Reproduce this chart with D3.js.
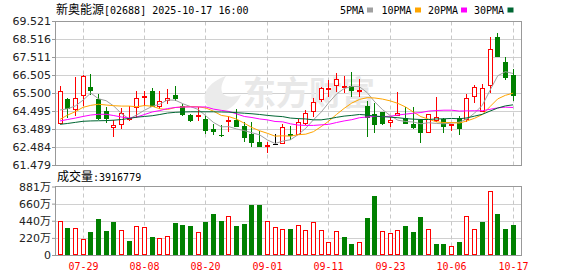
<!DOCTYPE html>
<html><head><meta charset="utf-8">
<script src="https://cdn.jsdelivr.net/npm/d3@7"></script>
<style>html,body{margin:0;padding:0;background:#fff;}svg{display:block;}</style>
</head><body><svg id="c" width="578" height="276"></svg>
<script>
const dates=["07-24","07-25","07-28","07-29","07-30","07-31","08-01","08-04","08-05","08-06","08-07","08-08","08-11","08-12","08-13","08-14","08-15","08-18","08-19","08-20","08-21","08-22","08-25","08-26","08-27","08-28","08-29","09-01","09-02","09-03","09-04","09-05","09-08","09-09","09-10","09-11","09-12","09-15","09-16","09-17","09-18","09-19","09-22","09-23","09-24","09-25","09-26","09-29","09-30","10-02","10-03","10-06","10-08","10-09","10-10","10-13","10-14","10-15","10-16","10-17"];
const open=[63.75,65.17,64.53,65.35,65.84,65.17,64.51,63.56,63.70,64.05,64.68,65.22,65.61,64.70,65.04,65.37,64.77,64.27,64.25,64.05,63.49,63.14,63.86,63.99,63.66,63.21,62.76,62.56,62.65,62.65,63.21,63.15,63.77,64.42,65.11,65.74,65.89,65.80,65.89,65.54,64.77,64.33,64.42,63.81,64.22,64.09,63.77,63.99,63.25,63.94,64.03,63.74,64.09,63.99,65.26,64.46,65.89,68.64,67.22,66.51];
const high=[65.89,65.20,66.38,66.50,66.56,65.44,64.70,63.99,64.65,64.77,65.61,65.61,65.78,65.61,65.71,65.89,64.89,64.30,64.74,64.27,63.77,63.70,64.22,64.59,63.90,63.90,63.40,62.76,63.19,63.77,63.66,64.03,64.55,65.20,65.85,66.23,66.63,66.45,66.69,66.27,65.05,64.96,64.45,64.18,65.57,64.74,64.70,64.05,64.35,65.26,64.10,63.77,64.22,65.44,65.95,65.99,68.64,68.87,67.49,66.82];
const low=[63.75,64.12,64.23,64.77,65.39,63.99,63.81,63.03,63.49,63.94,64.09,64.77,64.70,64.59,64.89,65.05,64.20,63.90,63.95,63.21,63.15,63.06,63.34,63.58,62.78,62.50,62.47,62.17,62.65,62.65,62.88,63.15,63.71,64.18,65.01,65.29,65.57,65.48,65.26,65.26,63.03,63.25,63.70,63.59,64.20,63.75,63.50,62.72,63.25,63.90,63.28,63.40,63.15,63.90,64.96,64.45,65.52,67.50,66.23,65.07];
const close=[65.63,64.59,65.20,66.45,65.61,64.05,64.03,63.70,64.37,64.10,65.20,65.32,64.74,65.04,65.24,65.17,64.29,63.95,64.27,63.40,63.34,63.10,63.99,63.62,62.97,62.72,62.50,62.58,62.65,63.62,63.10,63.90,64.37,65.01,65.76,65.78,66.27,65.91,65.63,65.67,64.10,63.71,63.75,63.99,64.37,63.75,63.53,63.25,64.31,64.18,63.62,63.76,63.47,65.20,65.85,65.80,67.94,67.53,66.35,65.33];
const volume=[4370000,3470000,3470000,2060000,3000000,4630000,3130000,4280000,3220000,1840000,3730000,3600000,2350000,2190000,2400000,4150000,3860000,3770000,3000000,4280000,5310000,4370000,5020000,3770000,4030000,6470000,6470000,4370000,3600000,3340000,3340000,3860000,3170000,4240000,3170000,1670000,3090000,2310000,1410000,1670000,4760000,7590000,3090000,2830000,3170000,3730000,3000000,4890000,3300000,1410000,1410000,1110000,1670000,5020000,3300000,4240000,8190000,5270000,3340000,3916779];
const ma5=[64.55,64.62,64.78,65.10,65.50,65.18,65.07,64.77,64.35,64.05,64.28,64.54,64.75,64.88,65.11,65.10,64.90,64.74,64.58,64.22,63.85,63.61,63.62,63.49,63.40,63.28,63.16,62.88,62.68,62.81,62.89,63.17,63.53,64.00,64.43,64.96,65.44,65.75,65.87,65.85,65.52,65.00,64.57,64.24,63.98,63.91,63.88,63.78,63.84,63.80,63.78,63.82,63.87,64.05,64.38,64.82,65.65,66.46,66.69,66.59];
const ma10=[64.03,64.27,64.46,64.70,64.81,64.87,64.83,64.79,64.77,64.77,64.73,64.80,64.76,64.62,64.58,64.69,64.72,64.74,64.73,64.66,64.48,64.25,64.18,64.04,63.81,63.57,63.39,63.25,63.09,63.11,63.09,63.17,63.20,63.34,63.62,63.93,64.30,64.64,64.94,65.14,65.24,65.22,65.16,65.06,64.92,64.72,64.44,64.18,64.04,63.89,63.85,63.85,63.82,63.94,64.09,64.30,64.74,65.17,65.37,65.49];
const ma20=[63.94,64.02,64.10,64.19,64.27,64.31,64.31,64.24,64.16,64.10,64.16,64.30,64.44,64.52,64.63,64.69,64.72,64.72,64.72,64.72,64.60,64.53,64.47,64.33,64.19,64.13,64.05,64.00,63.91,63.89,63.78,63.71,63.69,63.69,63.72,63.75,63.85,63.94,64.01,64.12,64.16,64.19,64.18,64.20,64.27,64.32,64.37,64.41,64.49,64.52,64.54,64.54,64.49,64.50,64.51,64.51,64.59,64.67,64.71,64.69];
const ma30=[63.75,63.80,63.86,63.92,63.94,63.95,63.96,63.98,64.02,64.08,64.15,64.19,64.23,64.30,64.38,64.42,64.44,64.45,64.45,64.45,64.45,64.44,64.43,64.40,64.37,64.34,64.30,64.25,64.21,64.18,64.10,64.07,64.05,64.00,64.00,64.06,64.14,64.21,64.25,64.30,64.27,64.21,64.18,64.15,64.12,64.07,64.04,64.02,64.02,64.05,64.06,64.08,64.06,64.11,64.21,64.31,64.49,64.66,64.78,64.84];
const priceTickLabels=["61.479","62.484","63.489","64.495","65.500","66.505","67.511","68.516","69.521"];
const volTickValues=[0,2202500,4405000,6607500,8810000];
const volTickLabels=["0","220万","440万","660万","881万"];
const xTickDates=["07-29","08-08","08-20","09-01","09-11","09-23","10-06","10-17"];
const maNames=["5PMA","10PMA","20PMA","30PMA"];
const title="新奥能源";
const titleCode="[02688] 2025-10-17 16:00";
const volLabel="成交量";

const RED="#ff0000", GREEN="#008000";
const maColors=["#a0a0a0","#ffa500","#ff00ff","#006633"];
const svg=d3.select("#c");
const L=55.5, Rt=521.5, mT=21.5, mB=165.5, vT=186.5, vB=255.5;
const x=d3.scaleBand().domain(dates).range([56.2,516.9]);
const cx=d=>Math.round(x(d)+x.bandwidth()/2-0.5);
const y=d3.scaleLinear().domain([61.479,69.521]).range([165,21]);
const vy=d3.scaleLinear().domain([0,8810000]).range([255,186.5]);
const priceTicks=priceTickLabels.map(Number);

// grid
const g=svg.append("g");
priceTicks.slice(1,-1).forEach(v=>{
  const yy=Math.round(y(v))+0.5;
  g.append("line").attr("x1",L).attr("x2",Rt).attr("y1",yy).attr("y2",yy).attr("stroke","#d0d0d0");
});
volTickValues.slice(1,-1).forEach(v=>{
  const yy=Math.round(vy(v))+0.5;
  g.append("line").attr("x1",L).attr("x2",Rt).attr("y1",yy).attr("y2",yy).attr("stroke","#d0d0d0");
});
xTickDates.forEach(d=>{
  const xx=cx(d)+0.5;
  [[mT,mB],[vT,vB]].forEach(([a,b])=>g.append("line").attr("x1",xx).attr("x2",xx).attr("y1",a).attr("y2",b)
    .attr("stroke","#c8c8c8").attr("stroke-dasharray","4,3"));
});

// watermark
svg.append("path").attr("d","M214 112 C198 102 203 84 226 76 C217 90 221 101 241 95 C236 106 226 113 214 112 Z").attr("fill","#ebebeb");
svg.append("text").attr("x",243).attr("y",105).attr("font-family","Noto Sans CJK SC").attr("font-weight","bold")
  .attr("font-size",33).attr("fill","#e8e8e8").text("东方财富");

// frames
svg.append("rect").attr("x",L).attr("y",mT).attr("width",Rt-L).attr("height",mB-mT).attr("fill","none").attr("stroke","#999");
svg.append("rect").attr("x",L).attr("y",vT).attr("width",Rt-L).attr("height",vB-vT).attr("fill","none").attr("stroke","#999");

// axes
const axFont="DejaVu Sans, Noto Sans CJK SC";
const ay=svg.append("g").attr("transform","translate(55,0)")
  .call(d3.axisLeft(y).tickValues(priceTicks).tickFormat((d,i)=>priceTickLabels[i]).tickSize(3).tickPadding(1));
const av=svg.append("g").attr("transform","translate(55,0)")
  .call(d3.axisLeft(vy).tickValues(volTickValues).tickFormat((d,i)=>volTickLabels[i]).tickSize(3).tickPadding(1));
[ay,av].forEach(a=>{a.select(".domain").remove();a.selectAll("line").attr("stroke","#999");
  a.selectAll("text").attr("font-family",axFont).attr("font-size",11).attr("fill","#222");});

// candles
const cg=svg.append("g");
dates.forEach((d,i)=>{
  const px=cx(d), o=open[i], c=close[i];
  const yo=Math.round(y(o)), yc=Math.round(y(c)), yh=Math.round(y(high[i])), yl=Math.round(y(low[i]));
  const wx=px+0.5;
  if(c>o){
    cg.append("line").attr("x1",wx).attr("x2",wx).attr("y1",yh).attr("y2",yc).attr("stroke",RED);
    cg.append("line").attr("x1",wx).attr("x2",wx).attr("y1",yo).attr("y2",yl).attr("stroke",RED);
    const h=Math.max(yo-yc,1);
    cg.append("rect").attr("x",px-2+0.5).attr("y",yc+0.5).attr("width",4).attr("height",h-1<1?1:h-1).attr("fill","#fff").attr("stroke",RED);
  } else if(c<o){
    cg.append("line").attr("x1",wx).attr("x2",wx).attr("y1",yh).attr("y2",yl).attr("stroke",GREEN);
    cg.append("rect").attr("x",px-2).attr("y",yo).attr("width",5).attr("height",Math.max(yc-yo,1)).attr("fill",GREEN);
  } else {
    cg.append("line").attr("x1",wx).attr("x2",wx).attr("y1",yh).attr("y2",yl).attr("stroke","#000");
    cg.append("line").attr("x1",px-2).attr("x2",px+3).attr("y1",yo+0.5).attr("y2",yo+0.5).attr("stroke","#000");
  }
  // volume
  const up = i===0 ? c>=o : c>=close[i-1];
  const vtop=Math.round(vy(volume[i])), vb=Math.round(vy(0));
  if(up){
    cg.append("rect").attr("x",px-2+0.5).attr("y",vtop+0.5).attr("width",4).attr("height",vb-vtop-1).attr("fill","#fff").attr("stroke",RED);
  } else {
    cg.append("rect").attr("x",px-2).attr("y",vtop).attr("width",5).attr("height",vb-vtop).attr("fill",GREEN);
  }
});

// MA lines
const line=d3.line().x((v,i)=>x(dates[i])+x.bandwidth()/2).y(v=>y(v));
[ma5,ma10,ma20,ma30].forEach((arr,k)=>{
  svg.append("path").attr("d",line(arr)).attr("fill","none").attr("stroke",maColors[k]).attr("stroke-width",1);
});

// x labels
xTickDates.forEach(d=>{
  svg.append("text").attr("x",cx(d)+0.5).attr("y",270).attr("text-anchor","middle")
    .attr("font-family","DejaVu Sans Mono").attr("font-size",10).attr("fill",RED).text(d);
});

// title
const t=svg.append("text").attr("x",56).attr("y",14).attr("fill","#000");
t.append("tspan").attr("font-family","Noto Sans CJK SC").attr("font-size",12).text(title);
t.append("tspan").attr("font-family","DejaVu Sans Mono").attr("font-size",10).text(titleCode);
// legend
const lx=[340,381.5,428,474], sx=[367,415,461,507.5];
maNames.forEach((n,k)=>{
  svg.append("text").attr("x",lx[k]).attr("y",14).attr("font-family","DejaVu Sans Mono").attr("font-size",10).attr("fill","#000").text(n);
  svg.append("rect").attr("x",sx[k]).attr("y",7.5).attr("width",6).attr("height",5).attr("fill",maColors[k]);
});
// volume label
const vt=svg.append("text").attr("x",57).attr("y",181).attr("fill","#000");
vt.append("tspan").attr("font-family","Noto Sans CJK SC").attr("font-size",12).text(volLabel);
vt.append("tspan").attr("font-family","DejaVu Sans Mono").attr("font-size",10).text(":"+volume[volume.length-1]);
</script></body></html>
